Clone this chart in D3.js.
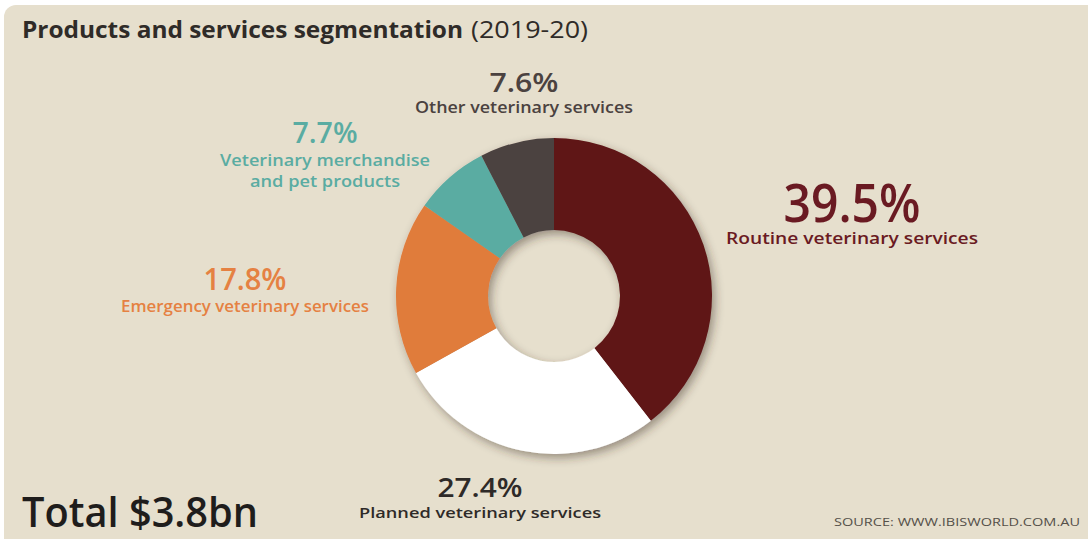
<!DOCTYPE html>
<html>
<head>
<meta charset="utf-8">
<script src="https://cdn.jsdelivr.net/npm/d3@7"></script>
<style>
  html, body { margin: 0; padding: 0; background: #ffffff; }
  svg { display: block; }
  text { font-family: "Open Sans", "Noto Sans", sans-serif; }
</style>
</head>
<body>
<svg id="chart" width="1088" height="539"></svg>
<script>
// Segment names, shares (%) and fills, clockwise from 12 o'clock
const segments = ["Routine veterinary services", "Planned veterinary services", "Emergency veterinary services", "Veterinary merchandise and pet products", "Other veterinary services"];
const shares = [39.5, 27.4, 17.8, 7.7, 7.6];
const fills = ["#5e1418", "#ffffff", "#e07b3b", "#5aaca2", "#4b4240"];
const labelColors = ["#6a1a22", "#2e2a28", "#e58142", "#5aaca2", "#4b4240"];
// Caption lines for each segment
const captionLines = [
  ["Routine veterinary services"],
  ["Planned veterinary services"],
  ["Emergency veterinary services"],
  ["Veterinary merchandise", "and pet products"],
  ["Other veterinary services"]
];

const title = "Products and services segmentation";
const period = "(2019-20)";
const total = "Total $3.8bn";
const source = "SOURCE: WWW.IBISWORLD.COM.AU";

const svg = d3.select("#chart");
const W = 1088, H = 539;

// Panel
svg.append("rect")
  .attr("x", 4).attr("y", 5).attr("width", W + 20).attr("height", H + 20)
  .attr("rx", 12).attr("fill", "#e6dfcd");

// Soft drop shadow under the ring
const defs = svg.append("defs");
const f = defs.append("filter").attr("id", "ringShadow")
  .attr("x", "-20%").attr("y", "-20%").attr("width", "140%").attr("height", "140%");
f.append("feDropShadow").attr("dx", 3).attr("dy", 4).attr("stdDeviation", 5)
  .attr("flood-color", "#3a2e20").attr("flood-opacity", 0.45);

// Title
const t = svg.append("text").attr("x", 22).attr("y", 38).attr("fill", "#2f2b28");
t.append("tspan").attr("font-weight", 700).attr("font-size", 24).text(title)
  .attr("textLength", 441).attr("lengthAdjust", "spacingAndGlyphs");
t.append("tspan").attr("dx", 8).attr("font-weight", 400).attr("font-size", 24).text(period)
  .attr("textLength", 117).attr("lengthAdjust", "spacingAndGlyphs");

// Donut
const cx = 554, cy = 296, rOuter = 158, rInner = 66;
const pie = d3.pie().sort(null).value(d => d.value);
const arcs = pie(shares.map((v, i) => ({ name: segments[i], value: v, i })));
const arc = d3.arc().innerRadius(rInner).outerRadius(rOuter);

const ring = svg.append("g").attr("transform", `translate(${cx},${cy})`)
  .attr("filter", "url(#ringShadow)");
ring.selectAll("path").data(arcs).join("path")
  .attr("d", arc)
  .attr("fill", d => fills[d.data.i]);

// Label placement: centre x, percent baseline/size/width, caption baseline/size/widths
const labelLayout = [
  { x: 852, y: 222, size: 52, w: 137, cy: 244, cs: 17, cw: [252] },
  { x: 480, y: 497, size: 27, w: 85, cy: 518, cs: 15, cw: [242] },
  { x: 245, y: 290, size: 31, w: 83, cy: 312, cs: 16, cw: [248] },
  { x: 325, y: 143, size: 28, w: 65, cy: 166, cs: 16, cw: [210, 150], lh: 21 },
  { x: 524, y: 92, size: 27, w: 69, cy: 113, cs: 16, cw: [218] }
];

const labels = svg.append("g");
arcs.forEach(d => {
  const i = d.data.i, L = labelLayout[i];
  labels.append("text")
    .attr("x", L.x).attr("y", L.y)
    .attr("text-anchor", "middle")
    .attr("font-size", L.size).attr("font-weight", 600)
    .attr("fill", labelColors[i])
    .attr("textLength", L.w).attr("lengthAdjust", "spacingAndGlyphs")
    .text(`${d.data.value}%`);
  captionLines[i].forEach((line, k) => {
    labels.append("text")
      .attr("x", L.x).attr("y", L.cy + k * (L.lh || 0))
      .attr("text-anchor", "middle")
      .attr("font-size", L.cs).attr("font-weight", 600)
      .attr("fill", labelColors[i])
      .attr("textLength", L.cw[k]).attr("lengthAdjust", "spacingAndGlyphs")
      .text(line);
  });
});

// Total and source
svg.append("text").attr("x", 22).attr("y", 527)
  .attr("font-size", 42).attr("font-weight", 600).attr("fill", "#1f1d1c")
  .attr("textLength", 236).attr("lengthAdjust", "spacingAndGlyphs")
  .text(total);

svg.append("text").attr("x", 1080).attr("y", 526).attr("text-anchor", "end")
  .attr("font-size", 11).attr("font-weight", 400).attr("fill", "#555049")
  .attr("textLength", 246).attr("lengthAdjust", "spacingAndGlyphs")
  .text(source);
</script>
</body>
</html>
